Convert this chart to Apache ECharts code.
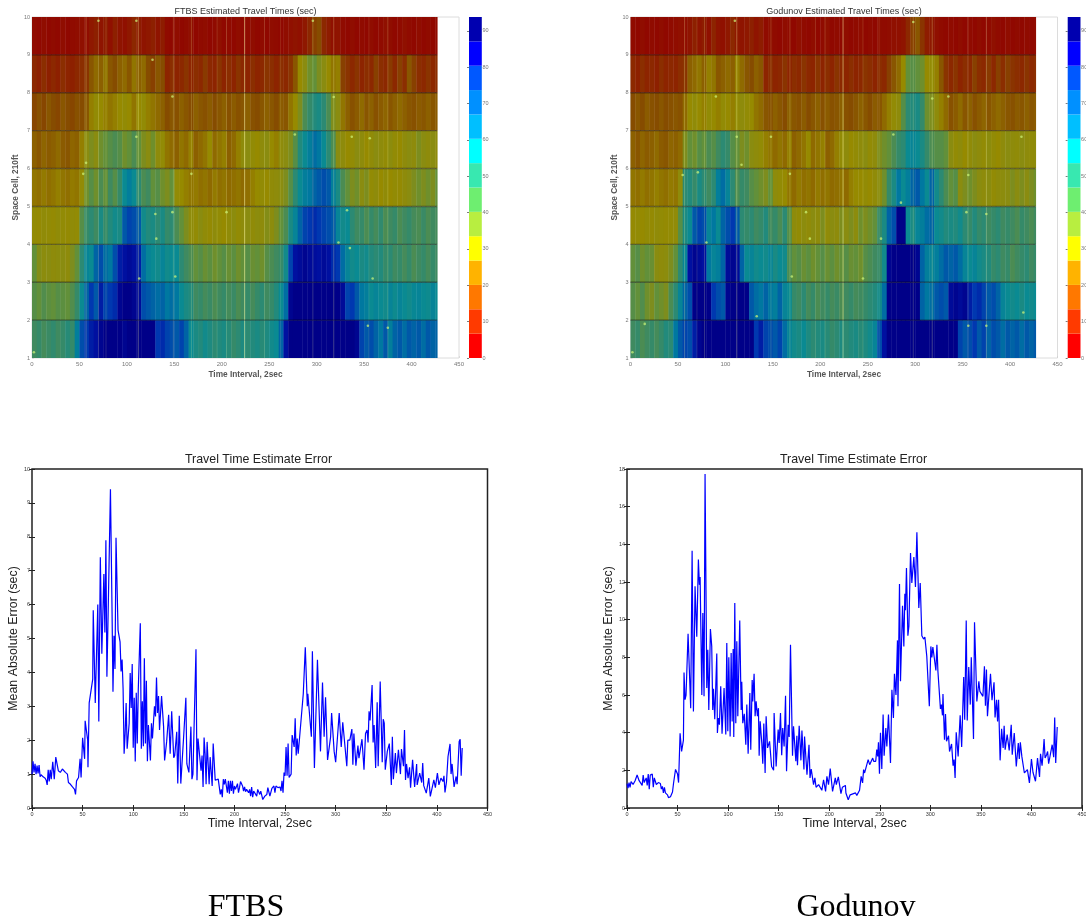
<!DOCTYPE html>
<html><head><meta charset="utf-8">
<style>html,body{margin:0;padding:0;background:#fff;overflow:hidden}#h,#l{position:absolute;left:0;top:0;width:1086px;height:920px}#h{filter:blur(.55px)}</style>
<script src="https://cdn.jsdelivr.net/npm/echarts@6/dist/echarts.min.js"></script>
</head><body><div id="h"></div><div id="l"></div>
<script>
// ---------- heat values (sec), one value per 5 time intervals, cells 1..9
const ftbsCell9=[4,3,5,3,4,3,5,3,4,5,6,5,8,10,7,9,6,10,7,6,8,12,9,7,8,10,7,9,4,3,5,3,4,6,3,4,5,3,4,6,3,4,3,5,3,4,5,3,4,3,5,4,3,5,6,7,6,8,12,16,18,12,9,6,7,4,3,5,3,4,3,5,3,4,6,5,3,4,6,4,3,5,3,4,3,4];
const ftbsCell8=[12,10,13,10,12,10,13,11,10,12,13,14,20,24,22,26,20,18,22,24,20,26,22,24,18,16,20,18,11,13,11,12,14,11,13,12,15,12,11,14,11,13,11,14,12,11,13,11,12,14,13,11,13,12,14,20,30,36,40,42,38,36,30,26,28,16,14,12,14,11,13,12,16,13,12,15,12,16,13,20,16,13,12,14,12,13];
const ftbsCell7=[17,19,17,20,18,17,20,18,17,19,18,20,28,32,30,28,26,28,30,32,30,26,30,32,28,26,24,22,18,20,19,22,20,18,22,20,19,21,18,20,22,19,21,19,20,22,19,18,20,22,20,18,21,20,26,30,38,46,50,54,56,52,46,38,36,26,22,19,21,24,20,22,19,21,23,20,22,24,22,20,19,21,20,22,20,21];
const ftbsCell6=[22,20,23,21,22,24,21,20,23,22,28,36,38,36,40,42,44,46,44,40,42,46,42,38,36,40,34,32,26,24,22,26,24,28,22,24,26,30,24,26,28,22,24,28,34,36,32,30,34,36,30,28,34,36,38,44,54,60,64,68,66,60,52,46,36,34,30,32,36,34,30,33,36,34,32,35,32,30,34,36,34,38,36,34,36,34];
const ftbsCell5=[26,25,27,25,26,28,26,25,27,26,32,40,44,40,46,42,48,44,50,60,64,60,52,46,48,42,44,40,38,42,32,30,28,26,27,25,26,24,27,25,26,24,25,26,24,25,28,30,32,30,33,34,36,38,44,52,60,64,66,70,72,74,72,64,56,46,42,38,40,36,38,32,34,30,33,30,32,31,34,36,38,40,38,40,38,42];
const ftbsCell4=[32,31,33,32,31,33,32,31,33,32,44,50,52,48,56,50,54,58,56,72,76,74,72,58,54,56,52,56,50,52,46,42,38,34,32,36,33,31,34,32,30,33,35,32,34,36,33,35,34,37,35,38,42,46,56,62,70,76,78,80,78,76,74,72,62,58,60,52,48,50,46,50,47,51,46,48,50,46,48,50,47,46,49,46,48,47];
const ftbsCell3=[42,37,35,36,34,35,36,34,38,42,52,62,60,70,74,68,66,74,82,84,86,84,82,68,62,60,58,62,58,60,60,52,48,46,42,44,41,43,40,42,44,41,43,40,42,44,41,42,40,44,46,48,50,58,76,84,86,88,86,85,84,86,84,80,78,68,62,58,60,56,58,54,52,54,50,52,48,50,47,50,46,48,50,47,50,48];
const ftbsCell2=[44,42,45,43,42,44,43,42,45,50,60,70,78,72,82,76,78,80,88,90,90,88,86,74,72,70,68,70,66,68,66,60,56,54,48,50,47,49,46,48,50,47,49,46,48,50,47,50,52,48,50,54,60,68,88,90,92,90,92,90,92,90,90,92,90,86,76,78,72,66,64,60,62,60,58,62,59,62,60,58,61,62,60,59,62,60];
const ftbsCell1=[48,50,47,49,51,48,50,53,50,64,74,78,82,84,88,90,92,90,92,88,90,92,90,92,90,92,78,80,76,74,72,76,70,60,56,54,58,55,52,54,56,53,50,52,55,52,54,56,53,55,58,60,70,84,92,93,92,94,93,92,94,92,93,94,92,92,94,90,88,76,72,74,70,66,72,64,70,72,68,72,70,72,68,72,70,70];
const godCell9=[4,3,5,3,4,3,5,3,4,5,6,5,7,10,7,9,6,11,7,6,8,12,8,7,8,10,7,9,4,6,4,3,5,4,3,6,4,3,5,3,4,6,3,4,3,5,3,4,5,3,4,3,5,4,5,6,6,7,12,16,20,14,9,8,6,4,3,4,3,5,3,4,3,5,3,4,6,4,3,5,3,4,3,4,3,4];
const godCell8=[12,10,13,11,12,10,13,11,12,11,13,14,22,24,26,22,28,26,20,22,24,22,28,24,20,18,22,20,11,13,11,12,14,11,13,12,14,12,11,14,11,13,11,14,12,11,13,11,12,14,13,11,13,12,16,20,24,30,42,44,42,40,30,32,28,20,14,12,14,11,13,12,16,13,12,15,12,16,13,16,14,13,12,14,12,13];
const godCell7=[18,20,18,21,19,18,20,18,19,20,19,24,30,33,30,28,32,30,28,32,30,28,32,34,32,30,26,24,20,19,22,20,18,22,20,19,21,18,20,22,19,21,19,20,22,19,18,20,22,20,18,21,20,24,28,32,34,44,52,54,56,50,40,38,34,28,24,19,21,24,20,22,19,21,23,20,22,24,22,20,19,21,20,22,20,21];
const godCell6=[22,20,23,21,22,24,21,20,23,22,24,38,42,40,44,42,46,44,48,52,50,44,42,38,40,36,34,32,28,26,24,26,24,28,22,24,26,30,24,26,28,22,24,28,32,34,30,32,34,36,32,34,38,40,42,46,50,52,60,62,60,56,50,46,44,44,42,36,32,34,30,33,36,34,32,35,32,30,34,36,34,33,36,34,33,34];
const godCell5=[26,25,27,25,26,28,26,25,27,26,34,52,54,50,56,52,48,52,64,68,62,52,46,50,48,44,42,40,38,42,34,32,30,26,24,27,25,26,24,27,25,26,24,25,26,24,28,30,30,32,30,33,36,40,50,56,66,60,64,70,72,66,60,70,58,52,46,42,44,36,38,40,38,36,34,36,32,34,35,36,38,36,38,36,38,40];
const godCell4=[31,32,30,32,31,33,32,31,32,33,44,56,60,72,76,74,62,66,60,70,74,78,72,52,50,52,48,50,54,48,50,46,52,44,34,32,35,33,36,34,38,33,36,34,38,36,38,35,40,38,40,42,50,56,70,74,90,92,60,56,62,64,68,70,60,58,54,56,54,58,52,50,54,50,52,48,50,52,48,50,48,46,50,48,46,48];
const godCell3=[42,44,40,42,41,36,34,35,38,42,52,62,84,88,86,84,66,62,64,70,86,88,86,70,60,62,58,60,58,62,56,60,58,46,42,44,41,43,40,42,44,41,43,40,42,44,41,42,40,44,46,48,50,58,88,92,94,93,92,94,88,70,64,62,64,68,72,70,72,68,62,60,62,58,56,54,50,52,48,50,46,48,50,52,48,50];
const godCell2=[44,42,45,40,38,42,40,38,46,52,62,70,74,90,92,90,92,78,74,72,88,92,90,92,90,72,68,66,70,66,64,70,62,60,50,48,52,47,50,46,48,50,47,49,46,48,50,47,48,50,52,54,58,68,90,92,94,92,94,93,92,70,66,68,72,74,72,86,88,86,88,82,78,80,76,72,74,70,62,60,58,60,56,60,58,60];
const godCell1=[48,50,46,48,50,47,50,54,52,66,72,76,74,82,88,92,90,92,94,90,92,94,92,90,92,90,78,82,76,74,72,76,68,62,58,56,60,55,52,54,56,53,50,52,55,52,54,56,53,55,58,62,74,84,92,94,92,94,93,92,94,92,93,94,92,94,92,94,90,76,72,74,78,72,76,70,74,72,68,72,70,72,68,72,70,72];
const ftbsCells=[ftbsCell1,ftbsCell2,ftbsCell3,ftbsCell4,ftbsCell5,ftbsCell6,ftbsCell7,ftbsCell8,ftbsCell9];
const godCells=[godCell1,godCell2,godCell3,godCell4,godCell5,godCell6,godCell7,godCell8,godCell9];
const heatStep=5, lastInterval=427;

// bright vertical traces and isolated bright cells
const ftbsTraceTimes=[57,70,78,112,149,168,195,205,224,245,262,296,318,355,375];
const ftbsTraceAlpha=[.25,.14,.14,.32,.2,.2,.12,.18,.5,.14,.12,.2,.25,.12,.2];
const godTraceTimes=[57,70,78,112,148,168,195,205,224,245,262,298,318,356,375];
const godTraceAlpha=[.25,.14,.2,.32,.16,.2,.12,.18,.5,.14,.12,.2,.25,.12,.2];
const ftbsSpotTimes=[110,57,54,337,318,356,148,127,277,168,296,110,70,332,148,130,205,113,359,375,354,2,335,323,131,151];
const ftbsSpotCells=[6.84,6.15,5.86,6.84,7.89,6.8,7.9,8.87,6.9,5.86,9.9,9.9,9.9,4.9,4.85,4.8,4.85,3.1,3.1,1.8,1.85,1.15,3.9,4.05,4.15,3.15];
const godSpotTimes=[112,55,71,412,356,318,335,277,90,148,168,117,298,110,185,189,80,264,285,375,354,170,245,133,356,375,2,414,15];
const godSpotCells=[6.84,5.83,5.9,6.84,5.83,7.85,7.9,6.9,7.9,6.84,5.86,6.1,9.87,9.9,4.85,4.15,4.05,4.15,5.1,4.8,4.85,3.15,3.1,2.1,1.85,1.85,1.15,2.2,1.9];

// ---------- colour bar
const barColors=['#ff0000','#ff3a00','#ff7800','#ffb300','#ffff00','#b8ee40','#6eee70','#38e8b0','#00ffff','#00bfff','#0090ff','#0058ff','#0000ff','#0000b0'];
const barLevels=[0,6.7,13.4,20.1,26.8,33.5,40.2,46.9,53.6,60.3,67,73.7,80.4,87.1,93.8];
const barTicks=[0,10,20,30,40,50,60,70,80,90];
const heatTones=['#900000','#901000','#8c2800','#864c00','#8f6a00','#968a00','#8a8c10','#62903a','#3f8a60','#228a7c','#0a8a92','#0078a0','#0058a8','#0038b0','#0010a0','#000088'];

// ---------- error curves: turning points
const ftbsTimes=[0,1,2,3,4,5,6,7,8,9,10,11,13,14,15,16,17,18,19,20.5,22,23.5,26,28,30,31,33,35,35.5,36,38,40,42,43,44,46,47.5,48.5,50,52,52.5,55,55.3,56.5,57.5,60,60.5,62.5,65,66,67.5,69,71,72,73,74,75,76,77.5,79,80,81,82,83,85,87,88,89,90,91,92,93,94,96,97,98,99,100,101,102,103,104,105,107,108,109,110,111,112,113,114,115,116,117,118,119,121,122,123,124,125,126,128,130,131,133,135,136.5,138,140,141,143,144,145.5,147,150,152,153,155,157,158,159,162,163,164,167,168,169,170,171,172,173,175,176,178,179,181,182,184,186,187,188,189,190,191,192,193,194,195,196,197,198,199,200,201,202,203,204,205,206,207,208,209,210,211,212,213,214,215,216,217,218,219,220,222,223,225,226,228,230,232,233,235,237,238,239,240,241,243,245,246,247,248,249,250,251,252,253,254,256,257,258,259,260,261,262,263,268,270,272,272.5,276,277,279,282,285,287,288.6,290,292,295,296,298.5,300,303.5,305.5,307,311,312,314,316,317,318,320,322,323,326,328,329.5,331,332,333,334,336,337,338,339.5,341,342,344,346,347,348,349,351,353,355,356,357,359,360,362,364,365,367,368,369,370,371.5,373,374,376,378,380,380.5,383,385,386,387,389.5,392,393.5,397,398.5,400.5,402,404,406,407,408,409.5,411,413,414,415,417,419,420,422,423,424,425];
const ftbsErrors=[1,1.38,1.05,1.3,1,1.25,1.02,1.27,.92,.98,.95,.92,.88,.82,.68,1.13,.78,1.13,.85,1.36,.85,1.5,1.1,1.05,1.15,1.2,1.05,1,1.03,.75,.7,.62,.55,.4,.8,.9,1.45,.9,2.07,1.45,2.57,2,1.2,3.1,3.05,3.8,5.83,3.1,6,2.55,7.4,4.55,6.9,5.18,7.9,3.87,5.4,5.35,9.4,6,3.43,5.08,4.1,7.97,5.25,4.9,4.03,4.38,3.5,1.6,2.2,3.1,1.75,2.5,3.98,2.95,4.25,1.78,3.25,1.37,3.4,1.9,3.5,5.45,1.75,3.15,1.82,4.42,1.9,3.75,1.38,2.45,2.45,1.4,2.5,2.05,3,2.7,3.85,2.8,3.3,2.3,3.3,2.4,1.4,1.95,2.75,1.6,2.85,1.48,1.55,2.25,.72,2.72,.72,2.2,3.25,1.3,1.05,2.4,.85,1,4.68,.82,2.05,1.1,1.55,.62,2.08,1.6,.7,1.95,.7,1.5,.65,1.9,.82,.85,.85,.4,.55,.32,.85,.7,.85,.9,.45,.8,.42,.8,.5,.8,.42,.65,.55,.6,.72,.45,.6,.78,.82,.65,.5,.62,.48,.55,.5,.45,.55,.35,.62,.32,.5,.55,.35,.55,.4,.5,.25,.35,.4,.6,.35,.58,.55,.65,.45,.65,.6,.62,.5,.8,.45,1.05,.95,1.8,.95,1.9,.9,1,2.15,2.1,1.8,2.65,1.55,2.05,1.6,3.37,4.74,3,3.37,2.1,4.62,1.18,4.37,1.67,3.7,2.1,3.27,1.42,2.1,2.8,1.67,1.35,2.8,1.8,2.53,1.23,2,2,2.33,1.28,2.2,1.25,1.84,1.47,2.03,1.13,2.2,2.3,1.93,2.85,2.58,3.63,1.93,2.45,1.18,3.12,1.23,3.73,1.35,2.62,2.5,1.13,1.67,1.9,.68,2.1,.85,1.62,1.03,1.72,1,1.74,1.23,2.3,.83,1.3,.88,1.2,.6,1.42,.62,1.3,.68,1.03,.75,1.33,.66,.44,.88,.34,.83,.6,1.03,.68,.88,.78,.95,.46,.78,1.52,1.89,1,1.3,.62,.93,.7,1.96,2.03,.95,1.77];
const godTimes=[0,1,2,3,4,6,8,10,12,15,16,17,19,20,21,22,23,25,26,27,29,31,33,34,35,36,37,38,40,41,43,45,46,47,48,50,51,52.5,54,55.8,56.4,57.4,58.4,60.4,63,64.4,65.7,67.3,69,70.6,71.6,72.3,74,75,76.2,77.2,78.9,79.9,80.9,82.5,83.8,84.8,85.5,86.8,88.8,89.4,90.4,91.4,92.7,94,96,97.7,98.7,99.7,100.7,102,103,104,105,105.6,106.6,107.6,108.6,109.6,111.5,112.9,113.5,114.5,116,117.5,118.5,119.8,121.5,122.4,123.8,124.4,125.7,126.7,127.7,129,130,130.7,131.7,133.3,134.3,135.3,136.6,137.6,139,141,143,145,145.5,147.5,149.5,150.5,151.8,153,154,155.4,156.8,157.8,159.4,160.4,161.7,163.7,164.7,167,168,168.6,170.3,172,173,175,175.6,178,180,181,182.2,184.5,185.8,187,189.5,192.7,194.4,196.4,197.7,199.3,201,203.3,206,207,209,211.6,213,216,216.5,218.8,220.7,226,227.3,230,231.6,233,234,235,238.5,240,243,244,246,247,248,248.7,249.7,250.7,252,253.3,254.3,256,257,258.6,259.6,260.6,262,263.5,264.5,266,267.5,268,269.5,270.5,272.5,273.8,274.8,275.4,276.4,277.8,278.8,280.4,281.7,283.7,285.3,286.7,288.6,290,291.6,293.3,294.6,296.5,299,300.5,301.5,302.5,305.5,306.5,307.5,309,310,311,312,312.5,314,315,316,318,319,321,322.5,323.5,324.5,325.6,327.5,329.5,331,333,334,335.5,336.5,338,339.5,340.5,342.7,343.7,346,348,349,352,353.5,354.5,355.5,356.5,358,359.5,361,363,364,365.5,366.5,367.5,369,370.5,372,373,374,376,378,380,381,383,385,387,388,389,390.5,393,394.5,396,398,400,401.5,403,404,406,408,409,410.5,411.5,412.5,413.5,415,416,417,420.5,422,423,424,425.5];
const godErrors=[1.3,1.05,1.35,1.1,1.4,1.25,1.45,1.75,1.45,1.2,1.75,1.35,1.6,1.2,1.8,1,1.75,1.8,1.1,1.6,1.25,1.35,1.3,1,1.15,.8,1.1,.8,.7,.55,.6,.85,1.3,1.2,2.05,1.8,1.35,3.97,3,3.6,7.2,5.75,6,9.25,5.3,13.66,5.13,11.77,9.1,13.2,11.85,12.27,6,10.35,5.93,17.73,6.37,8.4,5.2,9.5,8.58,5.2,6.33,4.72,8.2,3.98,4.78,4.42,6.46,3.95,6.37,3.9,8.76,4.07,8,3.8,8.23,4.6,8.44,3.77,10.88,4.5,8.85,4.87,9.95,5.2,6.7,4.5,5,3.36,5.5,2.88,6.1,3.1,6.8,5.66,7.13,4.87,5.66,4.87,5.3,2.78,4.6,3.45,2.35,4.48,1.86,4.87,3.19,3.54,2.2,2,5.04,2.2,4.16,3.45,5.04,2.8,4.25,3.27,5.96,1.95,4.42,3.77,8.67,2.78,4.34,2.48,3.84,2.27,4.37,2.53,4.12,2.04,3.8,1.77,3.36,1.6,2.07,1.24,1.6,1.1,1.24,.94,1.5,.88,1.68,1.24,2.09,.88,1.6,1.24,1.65,.76,1.1,1.2,.8,.44,.7,.8,.67,.94,1.68,1.33,2.04,1.86,2.57,2.3,2.65,2.48,2.48,3.1,2.74,3.49,1.82,4,2.07,4.96,2.78,4.25,3.27,4.96,5.04,2.39,6.28,4.78,7.13,6,8.9,5.4,11.9,6.73,10.74,8.58,11.38,10.5,12.74,9.15,9.65,13.54,11.95,13.33,11.73,14.64,10.62,11.95,9.15,8.97,9.08,8.05,5.4,8.58,8,8.55,7.3,8.67,7.26,7.2,5.26,5.49,4.92,6.05,3.63,4.99,3.54,3.84,3,3.4,2.25,2.57,1.6,4.02,2.74,4.92,3.24,6.96,4.69,9.96,4.65,7.49,5.49,8,3.66,9.86,5.66,6.73,6.19,5.93,7.52,5.43,7.35,4.87,6.02,7.13,5.72,6.67,4.81,5.75,4.6,5.75,2.53,4.2,3.19,4.37,3.1,3.9,3.06,4.42,2.83,3.98,2.2,3.45,2.6,3.49,2.74,1.86,1.82,2.04,1.33,2.6,1.9,1.95,1.42,2.65,1.65,2.88,2.25,2.88,3.66,2.65,2.83,3,2.35,3.36,2.7,4.81,2.39,4.3];

// ---------- tick labels and texts
const heatTitles=['FTBS Estimated Travel Times (sec)','Godunov Estimated Travel Times (sec)'];
const lineTitle='Travel Time Estimate Error';
const timeLabel='Time Interval, 2sec', spaceLabel='Space Cell, 210ft', errorLabel='Mean Absolute Error (sec)';
const captions=['FTBS','Godunov'];

const SANS='"Liberation Sans",Arial,sans-serif', SERIF='"Liberation Serif","Times New Roman",serif';
const rectItem=(api,x0,x1,y0,y1,fill)=>{
  const a=api.coord([x0,y1]),b=api.coord([x1,y0]);
  return {type:'rect',shape:{x:a[0],y:a[1],width:b[0]-a[0]+.4,height:b[1]-a[1]},style:{fill}};
};
function heatOption(){
  const grid=[],xAxis=[],yAxis=[],series=[],heatIdx=[];
  const add=(left,barLeft,cells,traceT,traceA,spotT,spotC,name)=>{
    let g=grid.length;
    grid.push({left,top:17,width:427,height:341,outerBoundsMode:'none',show:true,borderColor:'#dcdcdc',borderWidth:1,backgroundColor:'#fff'});
    xAxis.push({gridIndex:g,type:'value',min:0,max:450,interval:50,axisLine:{show:false},splitLine:{show:false},
      axisTick:{show:true,inside:true,length:2,lineStyle:{color:'#ccc',width:.6}},
      axisLabel:{fontSize:6,color:'#777',margin:3,fontFamily:SANS},
      name:timeLabel,nameLocation:'middle',nameGap:13,nameTextStyle:{fontSize:8.3,fontWeight:'bold',color:'#555',fontFamily:SANS}});
    yAxis.push({gridIndex:g,type:'value',min:1,max:10,interval:1,axisLine:{show:false},splitLine:{show:false},
      axisTick:{show:true,inside:true,length:2,lineStyle:{color:'#ccc',width:.6}},
      axisLabel:{fontSize:5.5,color:'#777',margin:2,fontFamily:SANS},
      name:spaceLabel,nameLocation:'middle',nameGap:8,nameRotate:90,nameTextStyle:{fontSize:8.3,fontWeight:'bold',color:'#555',fontFamily:SANS}});
    const heat=[];
    cells.forEach((row,r)=>row.forEach((v,c)=>{
      const x0=c*heatStep;
      heat.push([x0,Math.min(x0+heatStep,lastInterval),r+1,v]);
    }));
    heatIdx.push(series.length);
    series.push({type:'custom',name,xAxisIndex:g,yAxisIndex:g,data:heat,encode:{x:[0,1],y:2},clip:true,silent:true,z:2,
      renderItem:(p,api)=>rectItem(api,api.value(0),api.value(1),api.value(2),api.value(2)+1,api.visual('color'))});
    series.push({type:'custom',xAxisIndex:g,yAxisIndex:g,data:traceT.map((t,i)=>[t,traceA[i]]),encode:{x:0},silent:true,z:3,
      renderItem:(p,api)=>{const a=api.coord([api.value(0),10]),b=api.coord([api.value(0),1]);
        return {type:'line',shape:{x1:a[0],y1:a[1],x2:b[0],y2:b[1]},style:{stroke:'rgba(255,255,170,'+api.value(1)+')',lineWidth:1}};}});
    series.push({type:'custom',xAxisIndex:g,yAxisIndex:g,data:[2,3,4,5,6,7,8,9].map(y=>[y]),encode:{y:0},silent:true,z:4,
      renderItem:(p,api)=>{const a=api.coord([0,api.value(0)]),b=api.coord([lastInterval,api.value(0)]);
        return {type:'line',shape:{x1:a[0],y1:a[1],x2:b[0],y2:b[1]},style:{stroke:'rgba(0,0,0,.4)',lineWidth:1.4}};}});
    series.push({type:'scatter',xAxisIndex:g,yAxisIndex:g,data:spotT.map((t,i)=>[t,spotC[i]]),symbolSize:2.6,silent:true,z:5,
      itemStyle:{color:'rgba(205,245,120,.9)'}});
    g=grid.length;
    grid.push({left:barLeft,top:17,width:12.4,height:341,outerBoundsMode:'none'});
    xAxis.push({gridIndex:g,type:'value',min:0,max:1,show:false});
    yAxis.push({gridIndex:g,type:'value',position:'right',min:0,max:93.8,axisLine:{show:false},splitLine:{show:false},
      axisTick:{show:true,inside:true,length:2,lineStyle:{color:'#444',width:.7},customValues:barTicks},
      axisLabel:{fontSize:5.5,color:'#777',margin:1,fontFamily:SANS,customValues:barTicks}});
    series.push({type:'custom',xAxisIndex:g,yAxisIndex:g,data:barColors.map((c,i)=>[barLevels[i],barLevels[i+1],i]),encode:{y:[0,1]},silent:true,
      renderItem:(p,api)=>rectItem(api,0,1,api.value(0),api.value(1),barColors[api.value(2)])});
  };
  add(32,469,ftbsCells,ftbsTraceTimes,ftbsTraceAlpha,ftbsSpotTimes,ftbsSpotCells,'FTBS');
  add(630.5,1067.7,godCells,godTraceTimes,godTraceAlpha,godSpotTimes,godSpotCells,'Godunov');
  const title=[
    {text:heatTitles[0],left:245.5,top:7,padding:0,textAlign:'center',textStyle:{fontSize:9,fontWeight:'normal',color:'#333',fontFamily:SANS}},
    {text:heatTitles[1],left:844,top:7,padding:0,textAlign:'center',textStyle:{fontSize:9,fontWeight:'normal',color:'#333',fontFamily:SANS}}];
  return {animation:false,backgroundColor:'#fff',title,grid,xAxis,yAxis,series,
    visualMap:[{show:false,type:'continuous',seriesIndex:heatIdx,dimension:3,min:0,max:90,inRange:{color:heatTones}}]};
}
function lineOption(){
  const grid=[],xAxis=[],yAxis=[],series=[];
  const add=(left,width,ymax,yint,times,errors,gap)=>{
    const g=grid.length, xi=xAxis.length, yi=yAxis.length;
    grid.push({left,top:469,width,height:339,outerBoundsMode:'none',show:true,borderColor:'#222',borderWidth:1.5});
    const tick={show:true,inside:true,length:3,lineStyle:{color:'#222',width:1}};
    xAxis.push({gridIndex:g,type:'value',min:0,max:450,interval:50,axisLine:{show:false},splitLine:{show:false},axisTick:tick,
      axisLabel:{fontSize:5.5,color:'#333',margin:3,fontFamily:SANS},
      name:timeLabel,nameLocation:'middle',nameGap:9,nameTextStyle:{fontSize:12.4,color:'#222',fontFamily:SANS}});
    xAxis.push({gridIndex:g,type:'value',position:'top',min:0,max:450,interval:50,axisLine:{show:false},splitLine:{show:false},axisTick:tick,axisLabel:{show:false}});
    yAxis.push({gridIndex:g,type:'value',min:0,max:ymax,interval:yint,axisLine:{show:false},splitLine:{show:false},axisTick:tick,
      axisLabel:{fontSize:5.5,color:'#333',margin:2,fontFamily:SANS},
      name:errorLabel,nameLocation:'middle',nameGap:gap,nameRotate:90,nameTextStyle:{fontSize:12.4,color:'#222',fontFamily:SANS}});
    yAxis.push({gridIndex:g,type:'value',position:'right',min:0,max:ymax,interval:yint,axisLine:{show:false},splitLine:{show:false},axisTick:tick,axisLabel:{show:false}});
    series.push({type:'line',xAxisIndex:xi,yAxisIndex:yi,data:times.map((t,i)=>[t,errors[i]]),symbol:'none',smooth:false,silent:true,
      lineStyle:{color:'#0000ff',width:1.2},z:3});
  };
  add(32,455.5,10,1,ftbsTimes,ftbsErrors,11);
  add(627,455,18,2,godTimes,godErrors,11);
  const title=[
    {text:lineTitle,left:258.5,top:454,padding:0,textAlign:'center',textStyle:{fontSize:12.4,fontWeight:'normal',color:'#222',fontFamily:SANS}},
    {text:lineTitle,left:853.5,top:454,padding:0,textAlign:'center',textStyle:{fontSize:12.4,fontWeight:'normal',color:'#222',fontFamily:SANS}},
    {text:captions[0],left:246,top:892,padding:0,textAlign:'center',textStyle:{fontSize:32,fontWeight:'normal',color:'#000',fontFamily:SERIF}},
    {text:captions[1],left:856,top:892,padding:0,textAlign:'center',textStyle:{fontSize:32,fontWeight:'normal',color:'#000',fontFamily:SERIF}}];
  return {animation:false,title,grid,xAxis,yAxis,series};
}
echarts.init(document.getElementById('h'),null,{renderer:'canvas'}).setOption(heatOption());
echarts.init(document.getElementById('l'),null,{renderer:'canvas'}).setOption(lineOption());
</script></body></html>
